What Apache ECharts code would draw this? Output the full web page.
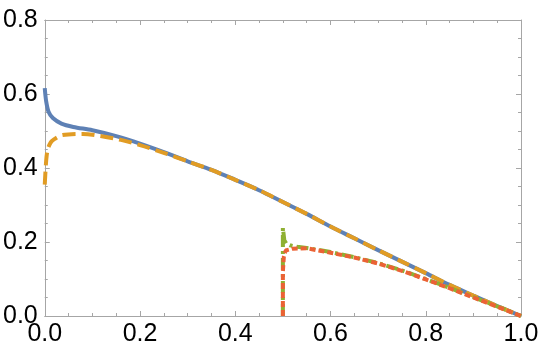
<!DOCTYPE html>
<html>
<head>
<meta charset="utf-8">
<script src="https://cdn.jsdelivr.net/npm/echarts@6/dist/echarts.min.js"></script>
<style>
  html, body { margin: 0; padding: 0; background: #fff; }
  #chart { width: 543px; height: 351px; }
</style>
</head>
<body>
<div id="chart"></div>
<script>
// curve values
var blueX = [0, 0.003, 0.008, 0.017, 0.035, 0.06, 0.1, 0.15, 0.2, 0.25, 0.3, 0.35, 0.4, 0.45, 0.5, 0.55, 0.6, 0.65, 0.7, 0.75, 0.8, 0.85, 0.9, 0.95, 1];
var blueY = [0.616, 0.58, 0.552, 0.535, 0.52, 0.511, 0.502, 0.486, 0.466, 0.443, 0.418, 0.395, 0.368, 0.340, 0.308, 0.276, 0.242, 0.210, 0.178, 0.147, 0.116, 0.084, 0.055, 0.027, 0];

var orangeX = [0, 0.003, 0.006, 0.012, 0.02, 0.037, 0.08, 0.12, 0.16, 0.2, 0.25, 0.3, 0.35, 0.4, 0.45, 0.5, 0.55, 0.6, 0.65, 0.7, 0.75, 0.8, 0.85, 0.9, 0.95, 1];
var orangeY = [0.355, 0.42, 0.449, 0.468, 0.478, 0.489, 0.492, 0.486, 0.476, 0.462, 0.441, 0.418, 0.395, 0.368, 0.340, 0.308, 0.276, 0.242, 0.210, 0.178, 0.147, 0.116, 0.084, 0.055, 0.027, 0];

var greenX = [0.5, 0.5, 0.503, 0.507, 0.515, 0.53, 0.55, 0.6, 0.65, 0.7, 0.75, 0.8, 0.85, 0.9, 0.95, 1];
var greenY = [0, 0.238, 0.205, 0.196, 0.191, 0.187, 0.184, 0.173, 0.159, 0.143, 0.123, 0.100, 0.076, 0.051, 0.026, 0];

var redX = [0.5, 0.5, 0.502, 0.506, 0.52, 0.55, 0.6, 0.65, 0.7, 0.75, 0.8, 0.85, 0.9, 0.95, 1];
var redY = [0, 0.12, 0.160, 0.177, 0.182, 0.183, 0.171, 0.158, 0.142, 0.122, 0.099, 0.075, 0.050, 0.025, 0];

function zip(xs, ys) {
    return xs.map(function (x, i) { return [x, ys[i]]; });
}

var frameColor = '#a6a6a6';
var labelFont = { color: '#000', fontSize: 25, fontFamily: 'Liberation Sans, Arial, sans-serif' };

// Mathematica style frame: all four sides, ticks pointing inward
function frameAxis(pos, showLabel, isX) {
    return {
        type: 'value',
        position: pos,
        min: 0,
        max: isX ? 1 : 0.8,
        interval: 0.2,
        axisLine: { show: true, onZero: false, lineStyle: { color: frameColor, width: 1 } },
        axisTick: { show: true, inside: true, length: 5, lineStyle: { color: frameColor } },
        minorTick: { show: true, splitNumber: 4, length: 3, lineStyle: { color: frameColor } },
        splitLine: { show: false },
        axisLabel: Object.assign({
            show: showLabel,
            margin: isX ? 6 : 7,
            showMinLabel: true,
            showMaxLabel: true,
            formatter: function (v) { return v.toFixed(1); }
        }, labelFont)
    };
}

var myChart = echarts.init(document.getElementById('chart'));
var option = {
    animation: false,
    backgroundColor: '#fff',
    grid: { left: 42, right: 22, top: 20, bottom: 35, containLabel: false },
    xAxis: [frameAxis('bottom', true, true), frameAxis('top', false, true)],
    yAxis: [frameAxis('left', true, false), frameAxis('right', false, false)],
    series: [
        {
            type: 'line', data: zip(blueX, blueY), showSymbol: false, smooth: 0.3,
            lineStyle: { color: '#5e81b5', width: 4 }
        },
        {
            type: 'line', data: zip(orangeX, orangeY), showSymbol: false, smooth: 0.3,
            lineStyle: { color: '#e19c24', width: 4, type: [13, 6] }
        },
        {
            type: 'line', data: zip(greenX, greenY), showSymbol: false,
            lineStyle: { color: '#8fb032', width: 4, type: [12, 4, 3, 4] }
        },
        {
            type: 'line', data: zip(redX, redY), showSymbol: false,
            lineStyle: { color: '#eb6235', width: 4, type: [6, 3] }
        }
    ]
};
myChart.setOption(option);
</script>
</body>
</html>
